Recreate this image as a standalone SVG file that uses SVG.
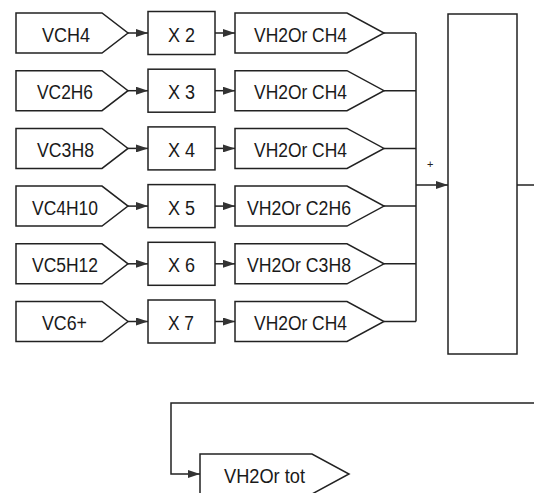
<svg xmlns="http://www.w3.org/2000/svg" width="534" height="493" viewBox="0 0 534 493">
<style>
.s{fill:#fff;stroke:#222;stroke-width:1.5;stroke-linejoin:miter}
.c{fill:none;stroke:#222;stroke-width:1.5}
.t{font-family:"Liberation Sans",Arial,sans-serif;font-size:20px;fill:#1a1a1a}
.p{font-family:"Liberation Sans",Arial,sans-serif;font-size:11px;fill:#222}
</style>
<defs>
<marker id="ah" markerWidth="12" markerHeight="8" refX="12" refY="4" orient="auto" markerUnits="userSpaceOnUse">
<path d="M0,0 L12,4 L0,8 Z" fill="#333"/>
</marker>
</defs>
<rect width="534" height="493" fill="#fff"/>
<g id="connectors">
<path class="c" d="M128,33 H148" marker-end="url(#ah)"/>
<path class="c" d="M128,90.7 H148" marker-end="url(#ah)"/>
<path class="c" d="M128,148.4 H148" marker-end="url(#ah)"/>
<path class="c" d="M128,206.1 H148" marker-end="url(#ah)"/>
<path class="c" d="M128,263.8 H148" marker-end="url(#ah)"/>
<path class="c" d="M128,321.5 H148" marker-end="url(#ah)"/>
<path class="c" d="M215,33 H235" marker-end="url(#ah)"/>
<path class="c" d="M215,90.7 H235" marker-end="url(#ah)"/>
<path class="c" d="M215,148.4 H235" marker-end="url(#ah)"/>
<path class="c" d="M215,206.1 H235" marker-end="url(#ah)"/>
<path class="c" d="M215,263.8 H235" marker-end="url(#ah)"/>
<path class="c" d="M215,321.5 H235" marker-end="url(#ah)"/>
<path class="c" d="M384,33 H416 M384,90.7 H416 M384,148.4 H416 M384,206.1 H416 M384,263.8 H416 M384,321.5 H416 M416,33 V321.5"/>
<path class="c" d="M416,185 H448" marker-end="url(#ah)"/>
<path class="c" d="M517,185 H534"/>
<path class="c" d="M534,403 H171 V474 H200" marker-end="url(#ah)"/>
<text class="p" x="427" y="168">+</text>
</g>
<g id="vch4"><path class="s" d="M16,13 H102 L128,33 L102,53 H16 Z"/><text class="t" x="42" y="41.5" textLength="48" lengthAdjust="spacingAndGlyphs">VCH4</text></g>
<g id="vc2h6"><path class="s" d="M16,70.7 H102 L128,90.7 L102,110.7 H16 Z"/><text class="t" x="37" y="99.2" textLength="56" lengthAdjust="spacingAndGlyphs">VC2H6</text></g>
<g id="vc3h8"><path class="s" d="M16,128.4 H102 L128,148.4 L102,168.4 H16 Z"/><text class="t" x="37" y="156.9" textLength="57" lengthAdjust="spacingAndGlyphs">VC3H8</text></g>
<g id="vc4h10"><path class="s" d="M16,186.1 H102 L128,206.1 L102,226.1 H16 Z"/><text class="t" x="32" y="214.6" textLength="66" lengthAdjust="spacingAndGlyphs">VC4H10</text></g>
<g id="vc5h12"><path class="s" d="M16,243.8 H102 L128,263.8 L102,283.8 H16 Z"/><text class="t" x="32" y="272.3" textLength="66" lengthAdjust="spacingAndGlyphs">VC5H12</text></g>
<g id="vc6"><path class="s" d="M16,301.5 H102 L128,321.5 L102,341.5 H16 Z"/><text class="t" x="42" y="330" textLength="45" lengthAdjust="spacingAndGlyphs">VC6+</text></g>
<g id="x2"><rect class="s" x="148" y="11.5" width="67" height="43"/><text class="t" x="168" y="41.5" textLength="27" lengthAdjust="spacingAndGlyphs">X 2</text></g>
<g id="x3"><rect class="s" x="148" y="69.2" width="67" height="43"/><text class="t" x="168" y="99.2" textLength="27" lengthAdjust="spacingAndGlyphs">X 3</text></g>
<g id="x4"><rect class="s" x="148" y="126.9" width="67" height="43"/><text class="t" x="168" y="156.9" textLength="27" lengthAdjust="spacingAndGlyphs">X 4</text></g>
<g id="x5"><rect class="s" x="148" y="184.6" width="67" height="43"/><text class="t" x="168" y="214.6" textLength="27" lengthAdjust="spacingAndGlyphs">X 5</text></g>
<g id="x6"><rect class="s" x="148" y="242.3" width="67" height="43"/><text class="t" x="168" y="272.3" textLength="27" lengthAdjust="spacingAndGlyphs">X 6</text></g>
<g id="x7"><rect class="s" x="148" y="300" width="67" height="43"/><text class="t" x="168" y="330" textLength="26" lengthAdjust="spacingAndGlyphs">X 7</text></g>
<g id="out1"><path class="s" d="M235,13 H347 L384,33 L347,53 H235 Z"/><text class="t" x="254" y="41.5" textLength="93" lengthAdjust="spacingAndGlyphs">VH2Or CH4</text></g>
<g id="out2"><path class="s" d="M235,70.7 H347 L384,90.7 L347,110.7 H235 Z"/><text class="t" x="254" y="99.2" textLength="93" lengthAdjust="spacingAndGlyphs">VH2Or CH4</text></g>
<g id="out3"><path class="s" d="M235,128.4 H347 L384,148.4 L347,168.4 H235 Z"/><text class="t" x="254" y="156.9" textLength="93" lengthAdjust="spacingAndGlyphs">VH2Or CH4</text></g>
<g id="out4"><path class="s" d="M235,186.1 H347 L384,206.1 L347,226.1 H235 Z"/><text class="t" x="247" y="214.6" textLength="104" lengthAdjust="spacingAndGlyphs">VH2Or C2H6</text></g>
<g id="out5"><path class="s" d="M235,243.8 H347 L384,263.8 L347,283.8 H235 Z"/><text class="t" x="247" y="272.3" textLength="104" lengthAdjust="spacingAndGlyphs">VH2Or C3H8</text></g>
<g id="out6"><path class="s" d="M235,301.5 H347 L384,321.5 L347,341.5 H235 Z"/><text class="t" x="254" y="330" textLength="93" lengthAdjust="spacingAndGlyphs">VH2Or CH4</text></g>
<g id="sum"><rect class="s" x="448" y="14" width="69" height="340"/></g>
<g id="tot"><path class="s" d="M200,454 H312 L349,474 L312,494 H200 Z"/><text class="t" x="224" y="482.5" textLength="81" lengthAdjust="spacingAndGlyphs">VH2Or tot</text></g>
</svg>
